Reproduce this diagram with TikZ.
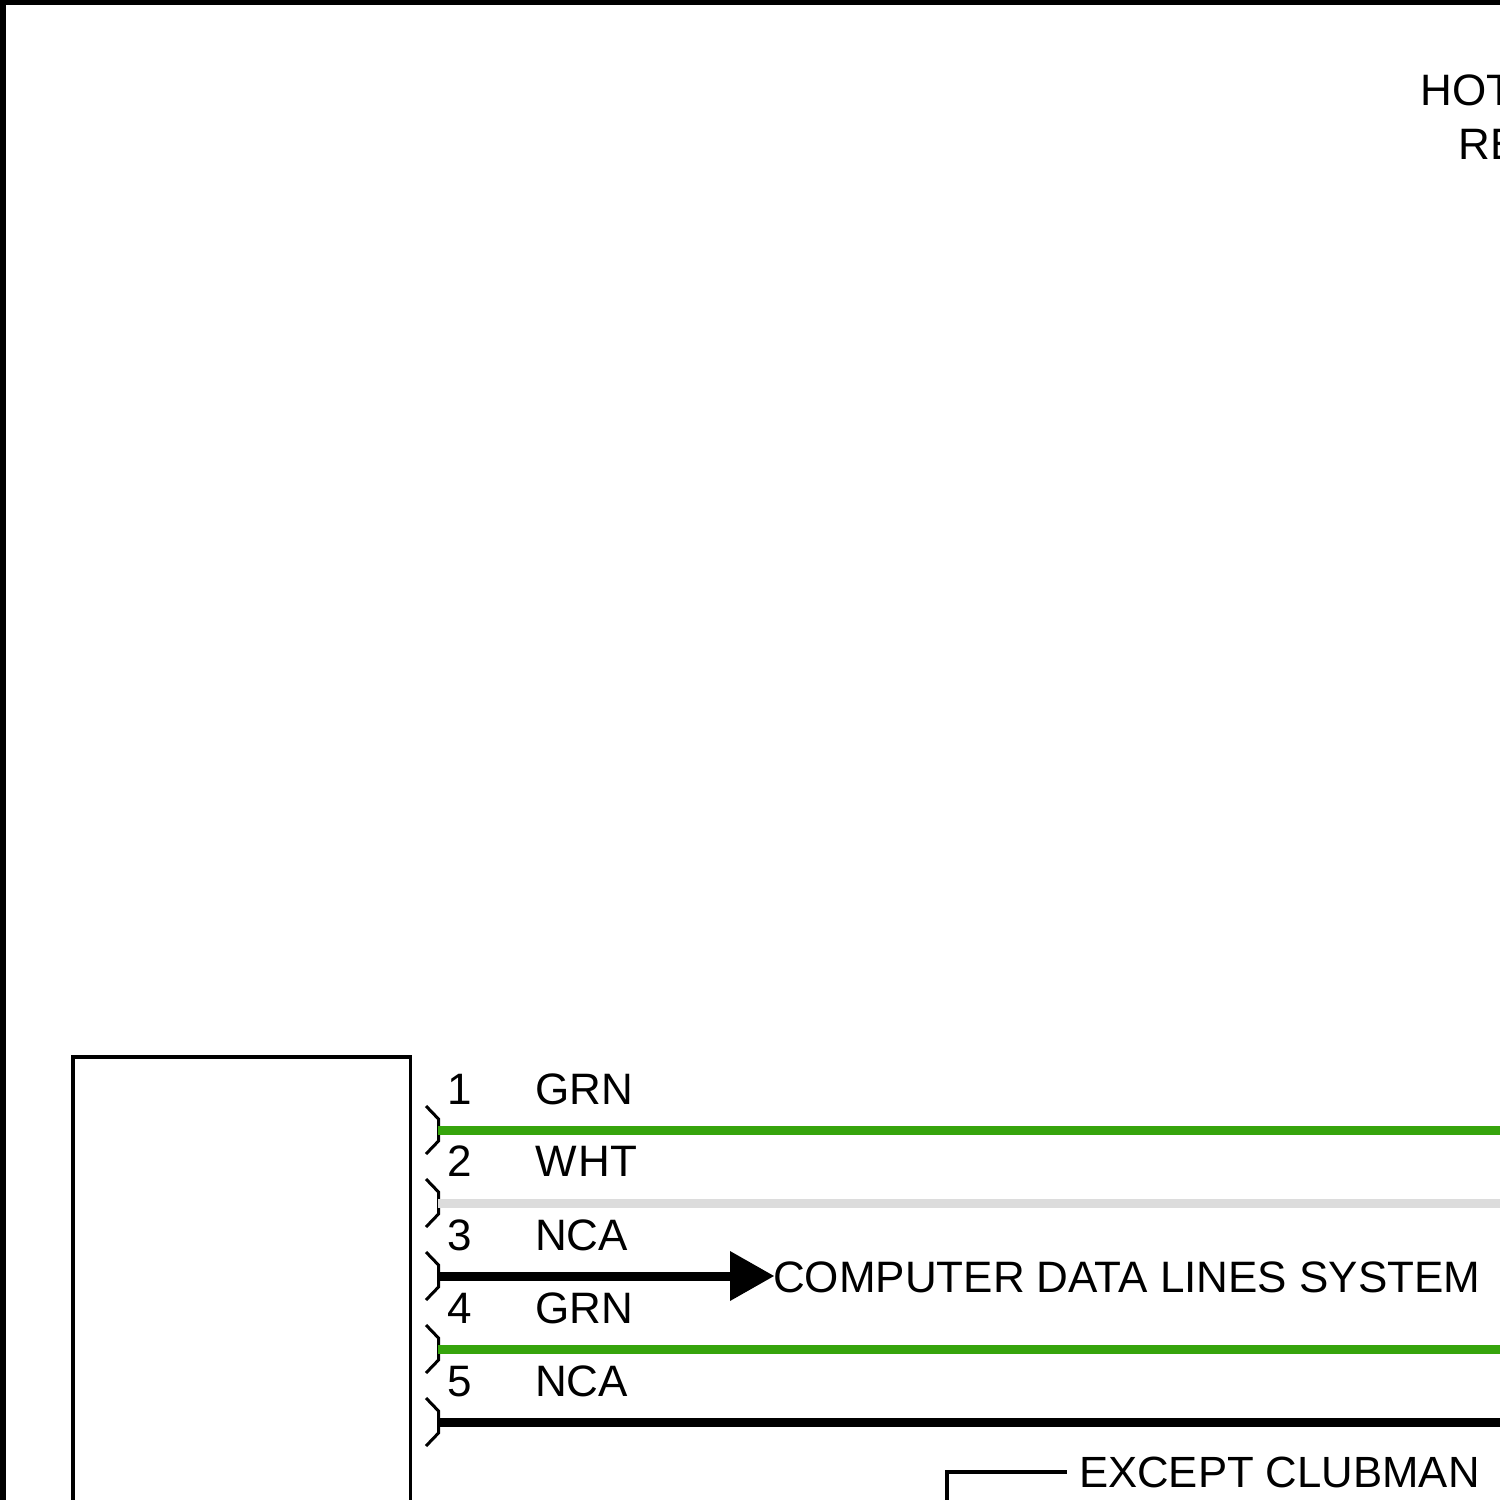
\documentclass[tikz,border=0pt]{standalone}
\usepackage{fontspec}
\setmainfont{Liberation Sans}
\definecolor{wiregreen}{HTML}{36A40C}
\definecolor{wirewhite}{HTML}{DCDCDC}
\tikzset{
  lbl/.style={inner sep=0pt,outer sep=0pt,font=\fontsize{44}{44}\selectfont,text=black},
  wire/.style={line width=9pt},
  thin line/.style={line width=3.2pt,line join=miter},
  plug/.style={line width=3pt,line join=miter},
}
\begin{document}
\begin{tikzpicture}[x=1pt,y=-1pt]
\useasboundingbox (0,0) rectangle (1500,1500);
\clip (0,0) rectangle (1500,1500);
\fill[white] (0,0) rectangle (1500,1500);
% frame
\fill[black] (0,0) rectangle (1500,5);
\fill[black] (0,0) rectangle (6,1500);
% module
\draw[thin line] (73,1510) -- (73,1057) -- (410.5,1057) -- (410.5,1510);
% free ends
\foreach \n/\y in {1/1130,2/1203,3/1276,4/1349,5/1422}{
  \coordinate (s\n) at (438,\y);
  \coordinate (e\n) at (1510,\y);
  \draw[plug] (426,\y-24) -- (438.5,\y-11) -- (438.5,\y+11) -- (426,\y+24);
}
\coordinate (tipbase) at (731,1276);
\draw[wire,wiregreen] (s1) -- (e1);
\draw[wire,wirewhite] (s2) -- (e2);
\draw[wire,black] (s3) -- (tipbase);
\fill[black] (730,1251) -- (774,1276) -- (730,1301) -- cycle;
\draw[wire,wiregreen] (s4) -- (e4);
\draw[wire,black] (s5) -- (e5);
% labels
\node[lbl,anchor=base west] (n1) at (447.5,1104) {1};
\node[lbl,anchor=base west] (n2) at (447,1176) {2};
\node[lbl,anchor=base west] (n3) at (447,1250) {3};
\node[lbl,anchor=base west] (n4) at (447,1323) {4};
\node[lbl,anchor=base west] (n5) at (447,1396) {5};
\node[lbl,anchor=base west] (c1) at (535,1104) {GRN};
\node[lbl,anchor=base west] (c2) at (535,1176) {W\kern2pt HT};
\node[lbl,anchor=base west] (c3) at (535,1250) {NCA};
\node[lbl,anchor=base west] (c4) at (535,1323) {GRN};
\node[lbl,anchor=base west] (c5) at (535,1396) {NCA};
\node[lbl,anchor=base west] (cdl) at (773,1292) {COMPUTER DATA LINES SYSTEM};
\node[lbl,anchor=base west,font=\fontsize{43.7}{44}\selectfont] (exc) at (1079,1487) {EXCEPT CLUBMAN};
\coordinate (brk) at (947,1510);
\draw[thin line] (brk) -- (947,1472) -- (1067,1472);
\node[lbl,anchor=base west] (hot) at (1420.5,105) {HOT};
\node[lbl,anchor=base west] (re) at (1458.5,159) {RE};
\end{tikzpicture}
\end{document}
